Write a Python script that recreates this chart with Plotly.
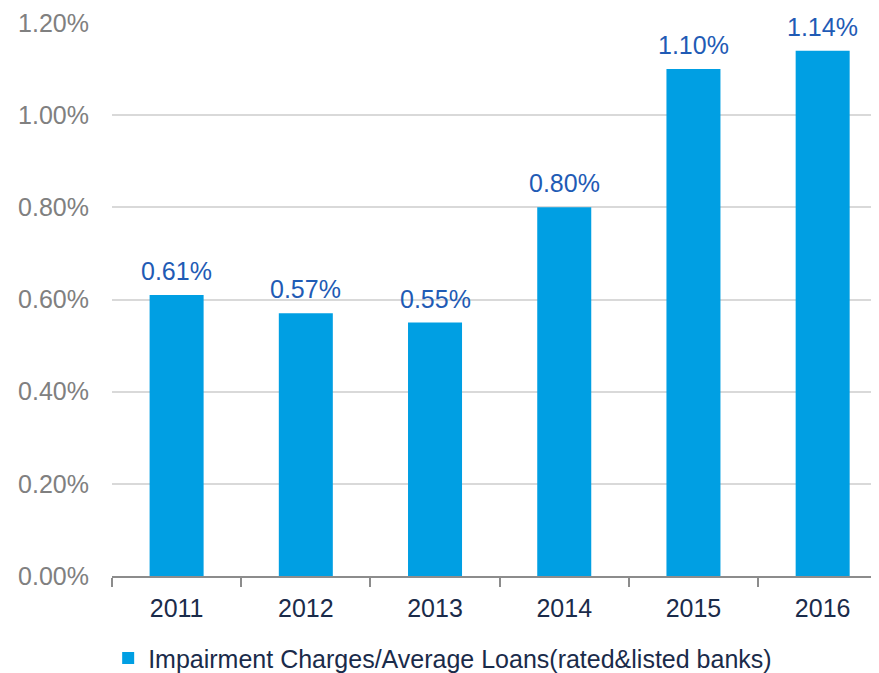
import plotly.graph_objects as go

years = ["2011", "2012", "2013", "2014", "2015", "2016"]
ratio = [0.0061, 0.0057, 0.0055, 0.0080, 0.0110, 0.0114]
labels = ["0.61%", "0.57%", "0.55%", "0.80%", "1.10%", "1.14%"]
yticks = [0, 0.002, 0.004, 0.006, 0.008, 0.010, 0.012]
yticklabels = ["0.00%", "0.20%", "0.40%", "0.60%", "0.80%", "1.00%", "1.20%"]

fig = go.Figure()
fig.add_trace(go.Bar(
    x=years, y=ratio,
    marker=dict(color="#009FE3", line=dict(width=0)),
    name="Impairment Charges/Average Loans(rated&listed banks)",
    cliponaxis=False,
))
# value labels, placed at each category's index on the category axis
for i, (yv, tv) in enumerate(zip(ratio, labels)):
    fig.add_annotation(x=i, y=yv, xref="x", yref="y", text=tv, showarrow=False,
                       yanchor="bottom", yshift=8,
                       font=dict(color="#1F5BB5", size=25, family="Liberation Sans"))

# page body has an 8px default margin, so the figure is 8px smaller
fig.update_layout(
    width=871, height=665,
    margin=dict(l=104, r=0, t=15, b=97, autoexpand=False),
    plot_bgcolor="white", paper_bgcolor="white",
    bargap=0.582,
    font=dict(family="Liberation Sans", size=25, color="#1A2B4A"),
    showlegend=True,
    legend=dict(orientation="h", x=-0.005, xanchor="left", y=-0.107, yanchor="top",
                font=dict(size=25, color="#1A2B4A"), itemwidth=30,
                bgcolor="rgba(0,0,0,0)"),
)
fig.update_xaxes(
    type="category", categoryorder="array", categoryarray=years,
    range=[-0.5, 5.436],
    showline=True, linecolor="#8C8C8C", linewidth=2,
    ticks="outside", tickson="boundaries", ticklen=9, tickcolor="#8C8C8C", tickwidth=2,
    tickfont=dict(color="#1A2B4A", size=25), showgrid=False,
    ticklabelstandoff=9, automargin=False,
)
fig.update_yaxes(
    range=[0, 0.012], tickvals=yticks, ticktext=yticklabels,
    tickfont=dict(color="#808080", size=25),
    showgrid=True, gridcolor="#D9D9D9", gridwidth=2, zeroline=False,
    showline=False, ticks="", ticklabelstandoff=22, automargin=False,
)
fig.write_html("out.html")
